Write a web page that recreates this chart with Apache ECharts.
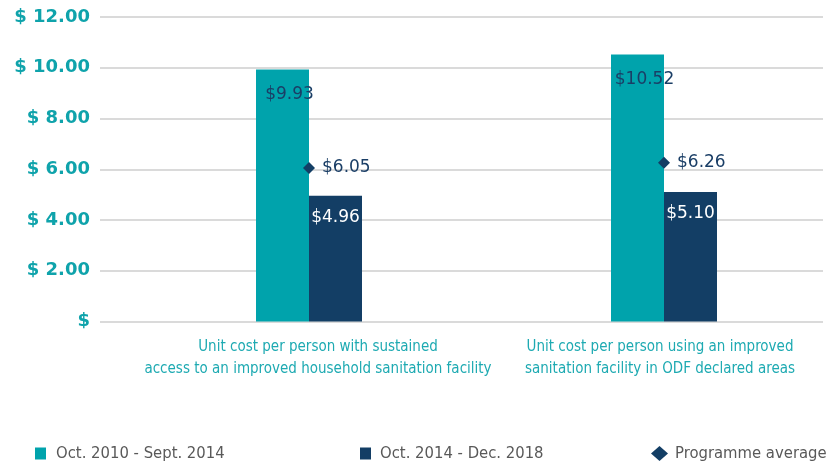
<!DOCTYPE html>
<html>
<head>
<meta charset="utf-8">
<script src="https://cdn.jsdelivr.net/npm/echarts@6/dist/echarts.min.js"></script>
<style>
html,body{margin:0;padding:0;background:#fff;}
#chart{width:831px;height:468px;}
</style>
</head>
<body>
<div id="chart"></div>
<script>
const categories = [
  'Unit cost per person with sustained\naccess to an improved household sanitation facility',
  'Unit cost per person using an improved\nsanitation facility in ODF declared areas'
];
const seriesNames = ['Oct. 2010 - Sept. 2014', 'Oct. 2014 - Dec. 2018', 'Programme average'];
const period1 = [9.93, 10.52];
const period2 = [4.96, 5.10];
const programmeAvg = [6.05, 6.26];
const yTickValues = [0, 2, 4, 6, 8, 10, 12];
const yTickLabels = ['$', '$ 2.00', '$ 4.00', '$ 6.00', '$ 8.00', '$ 10.00', '$ 12.00'];

const TEAL = '#00A3AC';
const NAVY = '#133E65';
const LABEL_NAVY = '#1A3E66';
const NARROW = "'Liberation Sans Narrow', 'Arial Narrow', 'DejaVu Sans Condensed', sans-serif";
const WIDE = "'DejaVu Sans', Verdana, sans-serif";

const chart = echarts.init(document.getElementById('chart'), null, {renderer: 'canvas'});
const money = v => '$' + v.toFixed(2);

const option = {
  animation: false,
  backgroundColor: '#fff',
  grid: [
    {left: 100, right: 8, top: 17, bottom: 146.5},
    {left: 309, width: 355, top: 17, bottom: 146.5},
    {left: 147, right: 0, top: 17, bottom: 146.5}
  ],
  xAxis: [
    {gridIndex: 0, type: 'value', show: false, min: 0, max: 1},
    {gridIndex: 1, type: 'category', data: categories, show: false, boundaryGap: false},
    {gridIndex: 2, type: 'category', data: categories,
     axisLine: {show: false}, axisTick: {show: false}, splitLine: {show: false},
     axisLabel: {interval: 0, margin: 15, color: '#1EAAB2', fontFamily: NARROW,
                 fontSize: 15, lineHeight: 22, align: 'center'}}
  ],
  yAxis: [
    {gridIndex: 0, type: 'value', min: 0, max: 12, interval: 2,
     axisLine: {show: false}, axisTick: {show: false},
     splitLine: {show: true, lineStyle: {color: '#DADADA', width: 2}},
     axisLabel: {margin: 10, color: '#0FA3AB', fontFamily: WIDE, fontWeight: 'bold', fontSize: 18,
                 formatter: v => yTickLabels[yTickValues.indexOf(v)]}},
    {gridIndex: 1, type: 'value', min: 0, max: 12, show: false},
    {gridIndex: 2, type: 'value', min: 0, max: 12, show: false}
  ],
  legend: [
    {data: [seriesNames[0]], left: 35, top: 443.5, padding: 0, icon: 'rect', itemWidth: 11, itemHeight: 12,
     textStyle: {fontFamily: NARROW, fontSize: 16.5, color: '#595959', lineHeight: 20, padding: [0, 0, 0, 5]}},
    {data: [seriesNames[1]], left: 360, top: 443.5, padding: 0, icon: 'rect', itemWidth: 11, itemHeight: 12,
     textStyle: {fontFamily: NARROW, fontSize: 16.5, color: '#595959', lineHeight: 20, padding: [0, 0, 0, 4]}},
    {data: [seriesNames[2]], left: 651, top: 443.5, padding: 0, icon: 'diamond', itemWidth: 17, itemHeight: 15,
     textStyle: {fontFamily: NARROW, fontSize: 16.5, color: '#595959', lineHeight: 20, padding: [0, 0, 0, 2]}}
  ],
  series: [
    {name: seriesNames[0], type: 'bar', xAxisIndex: 1, yAxisIndex: 1, data: period1, clip: false,
     barWidth: 53, barGap: '0%', itemStyle: {color: TEAL},
     label: {show: true, position: 'insideTop', distance: 17, offset: [7, 0],
             formatter: p => money(p.value), color: LABEL_NAVY, fontFamily: WIDE, fontSize: 17}},
    {name: seriesNames[1], type: 'bar', xAxisIndex: 1, yAxisIndex: 1, data: period2, clip: false,
     barWidth: 53, barGap: '0%', itemStyle: {color: NAVY},
     label: {show: true, position: 'insideTop', distance: 13,
             formatter: p => money(p.value), color: '#FFFFFF', fontFamily: WIDE, fontSize: 17}},
    {name: seriesNames[2], type: 'scatter', xAxisIndex: 1, yAxisIndex: 1, data: programmeAvg, clip: false,
     symbol: 'diamond', symbolSize: 12, itemStyle: {color: NAVY, opacity: 1}, z: 5,
     label: {show: true, position: 'right', distance: 7,
             formatter: p => money(p.value), color: LABEL_NAVY, fontFamily: WIDE, fontSize: 17}}
  ]
};
chart.setOption(option);
</script>
</body>
</html>
